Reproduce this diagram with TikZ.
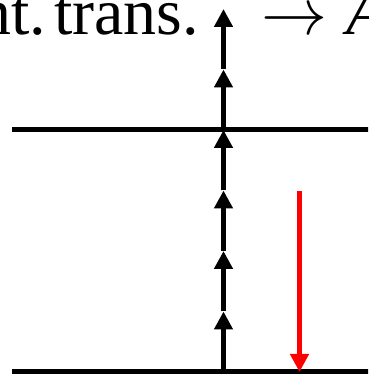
\RequirePackage{fix-cm}
\documentclass[tikz,border=0pt]{standalone}
\usepackage{fontspec}
\setmainfont{Liberation Serif}
\usetikzlibrary{arrows.meta}
\tikzset{
  levelline/.style={line width=5pt},
  excite/.style={line width=5.5pt, -{Triangle[length=18pt,width=18pt]}},
  decay/.style={excite, red},
  lbl/.style={inner sep=0pt, font=\fontsize{66}{72}\selectfont}
}
\begin{document}
\begin{tikzpicture}[x=1pt,y=1pt]
\useasboundingbox (0,0) rectangle (368,375);
\clip (0,0) rectangle (368,375);
% levels
\coordinate (upL) at (12,245);
\coordinate (upR) at (390,245);
\coordinate (loL) at (12,3);
\coordinate (loR) at (390,3);
\draw[levelline] (upL) -- (upR);
\draw[levelline] (loL) -- (loR);
% multi-photon excitation
\foreach \i/\y in {0/3,1/63.5,2/124,3/184.5,4/245,5/305.5,6/366}{
  \coordinate (v\i) at (223.5,\y);
}
\foreach \a/\b in {0/1,1/2,2/3,3/4,4/5,5/6}{
  \draw[excite] (v\a) -- (v\b);
}
% decay
\coordinate (r0) at (299.5,184);
\coordinate (r1) at (299.5,3);
\draw[decay] (r0) -- (r1);
% labels
\node[lbl, anchor=base east] (t1) at (199,340) {nt.\kern8pt trans.};
\node[lbl, anchor=base west] (t2) at (261,340) {$\rightarrow$};
\node[lbl, anchor=base west] (t3) at (346,340) {\textit{A}};
\end{tikzpicture}
\end{document}
